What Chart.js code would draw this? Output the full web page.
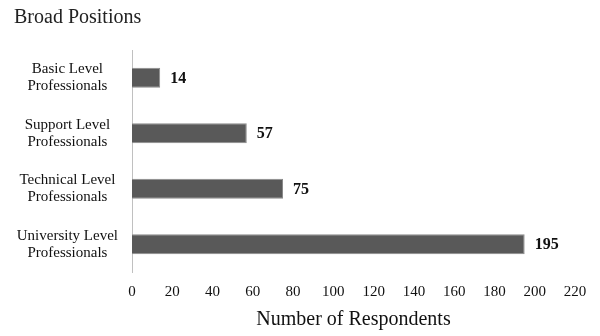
<!DOCTYPE html>
<html>
<head>
<meta charset="utf-8">
<script src="https://cdn.jsdelivr.net/npm/chart.js@4"></script>
<style>
  html, body { margin: 0; padding: 0; background: #fff; }
  #wrap { width: 600px; height: 336px; }
</style>
</head>
<body>
<div id="wrap"><canvas id="BroadPositionsChart"></canvas></div>
<script>
const categories = [
  ['Basic Level', 'Professionals'],
  ['Support Level', 'Professionals'],
  ['Technical Level', 'Professionals'],
  ['University Level', 'Professionals']
]
const respondents = [14, 57, 75, 195]
const xMin = 0
const xMax = 220
const xStep = 20

const serif = "'Liberation Serif', 'DejaVu Serif', serif"

// draws the bold count just past the end of each bar
const valueLabels = {
  id: 'valueLabels',
  afterDatasetsDraw(chart) {
    const ctx = chart.ctx
    const meta = chart.getDatasetMeta(0)
    ctx.save()
    ctx.font = 'bold 16px ' + serif
    ctx.fillStyle = '#111'
    ctx.textBaseline = 'middle'
    ctx.textAlign = 'left'
    meta.data.forEach((bar, i) => {
      ctx.fillText(String(respondents[i]), bar.x + 10, bar.y + 1)
    })
    ctx.restore()
  }
}

const ctx = document.getElementById('BroadPositionsChart')
new Chart(ctx, {
  type: 'bar',
  data: {
    labels: categories,
    datasets: [
      {
        label: 'Number of Respondents',
        data: respondents,
        backgroundColor: '#595959',
        borderColor: '#8a8a8a',
        borderWidth: 1,
        barPercentage: 0.72,
        categoryPercentage: 0.5
      }
    ]
  },
  options: {
    responsive: true,
    maintainAspectRatio: false,
    animation: false,
    indexAxis: 'y',
    layout: {
      padding: { left: 14, right: 25, top: 6, bottom: 4 }
    },
    plugins: {
      legend: { display: false },
      tooltip: { enabled: false },
      title: {
        display: true,
        text: 'Broad Positions',
        align: 'start',
        color: '#222',
        font: { family: serif, size: 20, weight: 'normal' },
        padding: { top: 0, bottom: 20 }
      }
    },
    scales: {
      x: {
        min: xMin,
        max: xMax,
        grid: { display: false, drawTicks: false },
        border: { display: false },
        ticks: {
          stepSize: xStep,
          color: '#111',
          padding: 11,
          font: { family: serif, size: 15 }
        },
        title: {
          display: true,
          text: 'Number of Respondents',
          color: '#111',
          font: { family: serif, size: 20 },
          padding: { top: 2, bottom: 0 }
        },
        afterFit(scale) {
          scale.height = 60
        }
      },
      y: {
        grid: { display: false, drawTicks: false },
        border: { display: true, color: '#c0c0c0', width: 1 },
        ticks: {
          color: '#111',
          crossAlign: 'center',
          padding: 14,
          font: { family: serif, size: 15, lineHeight: 1.15 }
        },
        afterFit(scale) {
          scale.width = 118
        }
      }
    }
  },
  plugins: [valueLabels]
})
</script>
</body>
</html>
